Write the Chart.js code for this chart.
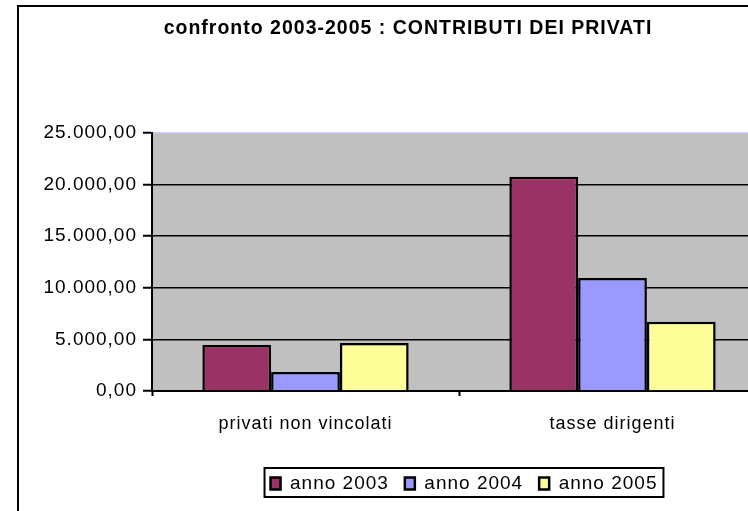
<!DOCTYPE html>
<html>
<head>
<meta charset="utf-8">
<script src="https://cdn.jsdelivr.net/npm/chart.js@4"></script>
<style>
  html, body { margin: 0; padding: 0; background: #fff; overflow: hidden; }
  body { width: 748px; height: 511px; position: relative; }
  #frame { position: absolute; left: 17px; top: 5px; border: 2px solid #000; width: 778px; height: 520px; }
  #myChart { display: block; }
</style>
</head>
<body>
<div id="frame"><canvas id="myChart" width="778" height="505"></canvas></div>
<script>
const categories = ["privati non vincolati", "tasse dirigenti"]
const anno2003 = [4450, 20750]
const anno2004 = [1850, 10950]
const anno2005 = [4650, 6700]
const yTicks = [0, 5000, 10000, 15000, 20000, 25000]

const FONT = "'Liberation Sans', Arial, sans-serif"

function fmt(v) {
  const parts = v.toFixed(2).split(".")
  const int = parts[0].replace(/\B(?=(\d{3})+(?!\d))/g, ".")
  return int + "," + parts[1]
}

// Excel-like wide text spacing + grey plot area
const spacing = {
  id: "spacing",
  beforeUpdate(chart) { chart.ctx.letterSpacing = "1px" },
  afterUpdate(chart) {
    // title centred on the whole frame, legend nudged right like the original
    chart.titleBlock.left = 0
    chart.titleBlock.right = chart.width
    const lg = chart.legend
    lg.left += 5
    lg.right += 5
    lg.legendHitBoxes.forEach((h) => { h.left += 5 })
  },
  beforeDraw(chart) {
    chart.ctx.letterSpacing = "1px"
    const a = chart.chartArea
    chart.ctx.save()
    chart.ctx.fillStyle = "#c0c0c0"
    chart.ctx.fillRect(a.left, a.top, a.right - a.left, a.bottom - a.top)
    chart.ctx.restore()
  },
}

// border around legend
const legendBox = {
  id: "legendBox",
  afterDraw(chart) {
    const hb = chart.legend.legendHitBoxes
    if (!hb || !hb.length) return
    const last = hb[hb.length - 1]
    const left = hb[0].left - 6
    const right = last.left + last.width + 6
    const top = hb[0].top - 6
    const bottom = hb[0].top + 23
    const ctx = chart.ctx
    ctx.save()
    ctx.strokeStyle = "#000"
    ctx.lineWidth = 2
    ctx.strokeRect(left, top, right - left, bottom - top)
    ctx.restore()
  },
}

const ctx = document.getElementById("myChart").getContext("2d")
const myChart = new Chart(ctx, {
  type: "bar",
  data: {
    labels: categories,
    datasets: [
      { label: "anno 2003", data: anno2003, backgroundColor: "#993366" },
      { label: "anno 2004", data: anno2004, backgroundColor: "#9999ff" },
      { label: "anno 2005", data: anno2005, backgroundColor: "#ffff99" },
    ],
  },
  options: {
    responsive: false,
    animation: false,
    devicePixelRatio: 1,
    layout: { padding: { left: 0, right: 31, top: 0, bottom: 9 } },
    datasets: {
      bar: {
        categoryPercentage: 0.672,
        barPercentage: 1,
        borderColor: "#000",
        borderWidth: 2.5,
      },
    },
    scales: {
      x: {
        grid: {
          drawOnChartArea: false,
          drawTicks: true,
          tickLength: 5,
          tickColor: "#000",
          tickWidth: 2,
          offset: true,
        },
        border: { color: "#000", width: 2 },
        ticks: {
          color: "#000",
          padding: 17,
          maxRotation: 0,
          font: { family: FONT, size: 18 },
        },
        afterFit: (s) => { s.height = 67 },
      },
      y: {
        min: 0,
        max: 25000,
        afterBuildTicks: (s) => { s.ticks = yTicks.map((v) => ({ value: v })) },
        grid: {
          color: (c) => (c.tick && c.tick.value === 25000 ? "#ccccff" : "#000"),
          lineWidth: 1.5,
          tickColor: "#000",
          tickLength: 9,
          tickWidth: 2,
        },
        border: { color: "#000", width: 2 },
        ticks: {
          color: "#000",
          padding: 6,
          font: { family: FONT, size: 19 },
          callback: (v) => fmt(v),
        },
        afterFit: (s) => { s.width = 133 },
      },
    },
    plugins: {
      title: {
        display: true,
        text: "confronto 2003-2005 : CONTRIBUTI DEI PRIVATI",
        color: "#000",
        font: { family: FONT, size: 19.5, weight: "bold" },
        padding: { top: 10.2, bottom: 92.4 },
      },
      legend: {
        position: "bottom",
        fullSize: false,
        labels: {
          color: "#000",
          boxWidth: 10,
          boxHeight: 12,
          padding: 16,
          font: { family: FONT, size: 19 },
        },
      },
      tooltip: { enabled: false },
    },
  },
  plugins: [spacing, legendBox],
})
</script>
</body>
</html>
